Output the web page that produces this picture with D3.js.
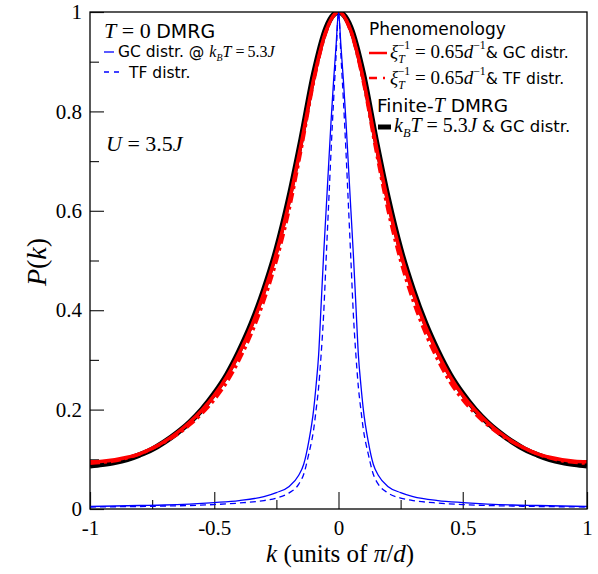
<!DOCTYPE html>
<meta charset="utf-8">
<script src="https://d3js.org/d3.v7.min.js"></script>
<style>
body { margin: 0; background: #fff; }
</style>
<div id="chart"></div>
<script>

// momentum grid (units of pi/d) for the broad curves
var kGrid = [-1,-0.95,-0.9,-0.85,-0.8,-0.75,-0.7,-0.65,-0.6,-0.55,-0.5,-0.45,-0.4,-0.35,-0.3,-0.25,-0.2,-0.15,-0.1,-0.05,
             0,0.05,0.1,0.15,0.2,0.25,0.3,0.35,0.4,0.45,0.5,0.55,0.6,0.65,0.7,0.75,0.8,0.85,0.9,0.95,1];

// finite-T DMRG, kBT = 5.3J, GC distr.
var dmrgFiniteT = [0.087,0.090,0.094,0.100,0.109,0.120,0.135,0.153,0.174,0.200,0.232,0.270,0.318,0.374,0.442,0.523,0.625,0.745,0.875,0.968,
                   1,0.968,0.875,0.745,0.625,0.523,0.442,0.374,0.318,0.270,0.232,0.200,0.174,0.153,0.135,0.120,0.109,0.100,0.094,0.090,0.087];

// phenomenology, xi^-1 = 0.65/d, GC distr.
var phenoGC = [0.095,0.096,0.099,0.104,0.111,0.122,0.136,0.153,0.174,0.199,0.229,0.266,0.313,0.368,0.435,0.515,0.615,0.735,0.865,0.962,
               1,0.962,0.865,0.735,0.615,0.515,0.435,0.368,0.313,0.266,0.229,0.199,0.174,0.153,0.136,0.122,0.111,0.104,0.099,0.096,0.095];

// phenomenology, xi^-1 = 0.65/d, TF distr.
var phenoTF = [0.092,0.094,0.097,0.103,0.111,0.122,0.135,0.150,0.169,0.192,0.220,0.255,0.300,0.354,0.420,0.500,0.600,0.725,0.860,0.960,
               1,0.960,0.860,0.725,0.600,0.500,0.420,0.354,0.300,0.255,0.220,0.192,0.169,0.150,0.135,0.122,0.111,0.103,0.097,0.094,0.092];

// finer grid for the narrow T = 0 DMRG peaks
var kBlue = [-1,-0.9,-0.8,-0.7,-0.6,-0.5,-0.4,-0.3,-0.25,-0.2,-0.16,-0.14,-0.12,-0.1,-0.09,-0.08,-0.07,-0.06,-0.05,-0.04,-0.03,-0.02,-0.01,
             0,0.01,0.02,0.03,0.04,0.05,0.06,0.07,0.08,0.09,0.1,0.12,0.14,0.16,0.2,0.25,0.3,0.4,0.5,0.6,0.7,0.8,0.9,1];

var gcT0 = [0.005,0.006,0.007,0.008,0.010,0.013,0.017,0.025,0.033,0.045,0.068,0.09,0.135,0.20,0.25,0.31,0.41,0.51,0.60,0.69,0.78,0.86,0.93,
            1,0.93,0.86,0.78,0.69,0.60,0.51,0.41,0.31,0.25,0.20,0.135,0.09,0.068,0.045,0.033,0.025,0.017,0.013,0.010,0.008,0.007,0.006,0.005];

var tfT0 = [0.004,0.0045,0.005,0.006,0.007,0.009,0.012,0.017,0.022,0.032,0.05,0.07,0.11,0.16,0.20,0.245,0.31,0.39,0.50,0.61,0.72,0.82,0.91,
            1,0.91,0.82,0.72,0.61,0.50,0.39,0.31,0.245,0.20,0.16,0.11,0.07,0.05,0.032,0.022,0.017,0.012,0.009,0.007,0.006,0.005,0.0045,0.004];

var xMajor = [-1,-0.5,0,0.5,1];
var xMinor = [-0.75,-0.25,0.25,0.75];
var yMajor = [0,0.2,0.4,0.6,0.8,1];
var yMinor = [0.1,0.3,0.5,0.7,0.9];

var W = 598, H = 574;
var margin = {top: 12, right: 11, bottom: 65, left: 90},
    width = W - margin.left - margin.right,
    height = H - margin.top - margin.bottom;

var SERIF = "'Liberation Serif', 'Times New Roman', serif";
var SANS = "'DejaVu Sans', sans-serif";

var svg = d3.select("#chart").append("svg")
    .attr("width", W).attr("height", H);
var g = svg.append("g")
    .attr("transform", "translate(" + margin.left + "," + margin.top + ")");

var x = d3.scaleLinear().domain([-1, 1]).range([0, width]);
var y = d3.scaleLinear().domain([0, 1]).range([height, 0]);

g.append("clipPath").attr("id", "clip")
  .append("rect").attr("width", width).attr("height", height);

// ticks, pointing inwards
g.append("g").attr("transform", "translate(0," + height + ")")
  .call(d3.axisBottom(x).tickValues(xMinor).tickSize(-9).tickFormat(""));
g.append("g").attr("transform", "translate(0," + height + ")")
  .call(d3.axisBottom(x).tickValues(xMajor).tickSize(-17).tickPadding(11).tickFormat(function(d){ return String(d); }));
g.append("g")
  .call(d3.axisLeft(y).tickValues(yMinor).tickSize(-9).tickFormat(""));
g.append("g")
  .call(d3.axisLeft(y).tickValues(yMajor).tickSize(-14).tickPadding(8).tickFormat(function(d){ return String(d); }));

g.selectAll(".domain").remove();
g.selectAll(".tick line").attr("stroke", "#222").attr("stroke-width", 1.2);
g.selectAll(".tick text")
  .style("font-family", SERIF).style("font-size", "21px").attr("fill", "#000");

// curves
var line = function(ks) {
  return d3.line()
    .x(function(d, i){ return x(ks[i]); })
    .y(function(d){ return y(d); })
    .curve(d3.curveMonotoneX);
};

var curves = g.append("g").attr("clip-path", "url(#clip)");

curves.append("path").datum(dmrgFiniteT)
  .attr("d", line(kGrid)).attr("fill", "none")
  .attr("stroke", "#000").attr("stroke-width", 5.5);
curves.append("path").datum(phenoGC)
  .attr("d", line(kGrid)).attr("fill", "none")
  .attr("stroke", "#ff0000").attr("stroke-width", 3.5);
curves.append("path").datum(phenoTF)
  .attr("d", line(kGrid)).attr("fill", "none")
  .attr("stroke", "#ff0000").attr("stroke-width", 3.5)
  .attr("stroke-dasharray", "10,4,3,4");
curves.append("path").datum(gcT0)
  .attr("d", line(kBlue)).attr("fill", "none")
  .attr("stroke", "#0000ff").attr("stroke-width", 1.3);
curves.append("path").datum(tfT0)
  .attr("d", line(kBlue)).attr("fill", "none")
  .attr("stroke", "#0000ff").attr("stroke-width", 1.3)
  .attr("stroke-dasharray", "6,4");

// frame
g.append("rect").attr("width", width).attr("height", height)
  .attr("fill", "none").attr("stroke", "#000").attr("stroke-width", 1.3);

// rich text helper: parts are [text, style, shift, dx]
// style: s = sans, i = italic serif, r = roman serif; shift: sub / sup
function richText(sel, px, py, sansSize, mathSize, parts) {
  var t = sel.append("text").attr("x", px).attr("y", py).attr("fill", "#000");
  var cur = 0;
  parts.forEach(function(p) {
    var size = p[1] == "s" ? sansSize : mathSize;
    var ts = t.append("tspan").text(p[0]);
    ts.style("font-family", p[1] == "s" ? SANS : SERIF)
      .style("font-style", p[1] == "i" ? "italic" : "normal")
      .style("font-size", size + "px");
    var want = 0;
    if (p[2] == "sub") want = mathSize * 0.26;
    if (p[2] == "sup") want = -mathSize * 0.46;
    if (p[2]) ts.style("font-size", (mathSize * 0.62) + "px");
    if (p[3]) ts.attr("dx", p[3]);
    if (want != cur) { ts.attr("dy", want - cur); cur = want; }
  });
  return t;
}

// left legend: T = 0 DMRG
richText(svg, 104, 38, 19, 22, [["T","i"],[" = 0 ","r"],["DMRG","s"]]);
svg.append("line").attr("x1", 104).attr("x2", 114).attr("y1", 52).attr("y2", 52)
  .attr("stroke", "#0000ff").attr("stroke-width", 1.3);
richText(svg, 118, 57, 15.5, 16, [["GC distr. @ ","s"],["k","i"],["B","i","sub"],["T","i"],[" =","r"],["5.3","r","","3"],["J","i"]]);
svg.append("line").attr("x1", 104).attr("x2", 120).attr("y1", 72).attr("y2", 72)
  .attr("stroke", "#0000ff").attr("stroke-width", 1.3).attr("stroke-dasharray", "5,5");
richText(svg, 129, 78, 15.5, 16, [["TF distr.","s"]]);
richText(svg, 106, 151, 18, 22, [["U","i"],[" = 3.5","r"],["J","i"]]);

// right legend: phenomenology and finite-T DMRG
richText(svg, 369, 35, 17, 17, [["Phenomenology","s"]]);
svg.append("line").attr("x1", 369).attr("x2", 387).attr("y1", 53).attr("y2", 53)
  .attr("stroke", "#ff0000").attr("stroke-width", 2.5);
richText(svg, 390, 58, 15.5, 19, [["ξ","i"],["T","i","sub"],["−1","r","sup","-7"],[" = 0.65","r"],["d","i"],["−1","r","sup"],["& GC distr.","s"]]);
svg.append("line").attr("x1", 369).attr("x2", 387).attr("y1", 78).attr("y2", 78)
  .attr("stroke", "#ff0000").attr("stroke-width", 2.5).attr("stroke-dasharray", "8,6,2,10");
richText(svg, 390, 84, 15.5, 19, [["ξ","i"],["T","i","sub"],["−1","r","sup","-7"],[" = 0.65","r"],["d","i"],["−1","r","sup"],["& TF distr.","s"]]);
richText(svg, 377, 112, 18.5, 20, [["Finite-","s"],["T","i"],[" DMRG","s"]]);
svg.append("line").attr("x1", 378).attr("x2", 391).attr("y1", 127).attr("y2", 127)
  .attr("stroke", "#000").attr("stroke-width", 5);
richText(svg, 394, 132, 16.5, 20, [["k","i"],["B","i","sub"],["T","i"],[" = 5.3","r"],["J","i"],[" & GC distr.","s"]]);

// axis titles
richText(svg, 340, 562, 25, 25, [["k","i"],[" (units of ","r"],["π","i"],["/","r"],["d","i"],[")","r"]])
  .attr("text-anchor", "middle");
richText(svg.append("g").attr("transform", "translate(46,262) rotate(-90)"), 0, 0, 28, 28,
  [["P","i"],["(","r"],["k","i"],[")","r"]]).attr("text-anchor", "middle");

</script>
